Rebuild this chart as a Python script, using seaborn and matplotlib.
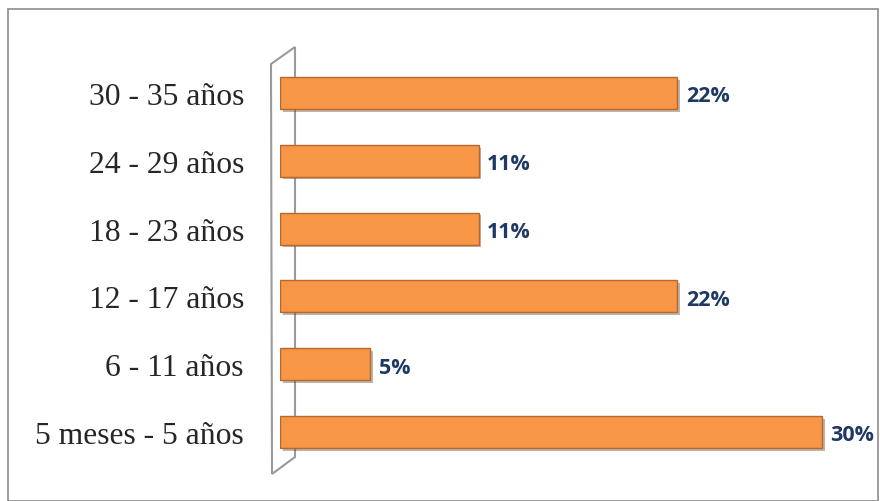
import matplotlib
matplotlib.use('Agg')
import matplotlib.pyplot as plt
import matplotlib.patheffects as pe
from matplotlib.patches import Polygon, Rectangle
import seaborn as sns
import pandas as pd

# data
categories = ["30 - 35 años", "24 - 29 años", "18 - 23 años",
              "12 - 17 años", "6 - 11 años", "5 meses - 5 años"]
percent = [22, 11, 11, 22, 5, 30]
labels = ["22%", "11%", "11%", "22%", "5%", "30%"]

df = pd.DataFrame({"grupo": categories, "pct": percent})

sns.set_style("white")
plt.rcParams['font.family'] = ['Liberation Serif', 'DejaVu Serif']

fig = plt.figure(figsize=(8.8, 5.02), dpi=100)
ax = fig.add_axes([280 / 880, 1 - 467 / 502, 560 / 880, 407 / 502])
ax.patch.set_alpha(0)

sns.barplot(data=df, x="pct", y="grupo", color="#F79646", saturation=1,
            width=0.47, edgecolor="#B9672A", linewidth=1.0, ax=ax)
for p in ax.patches:
    p.set_path_effects([pe.SimplePatchShadow(offset=(2, -2), alpha=0.35), pe.Normal()])

for i, (v, lab) in enumerate(zip(percent, labels)):
    ax.annotate(lab, (v, i), xytext=(6, -2), textcoords="offset points",
                va="center", ha="left", fontsize=15.5, fontweight="bold",
                color="#1F3864", family=["Open Sans", "DejaVu Sans"])

ax.set_xlim(0, 31.0)
ax.set_xlabel("")
ax.set_ylabel("")
ax.set_xticks([])
ax.tick_params(axis="y", length=0, pad=26, labelsize=22.8)
for s in ax.spines.values():
    s.set_visible(False)

# back wall of the 3d chart
W, H = 880, 502
wall = [(271, 65), (295, 48), (295, 458), (272, 475)]
fig.patches.append(Polygon([(x / W, 1 - y / H) for x, y in wall], closed=True,
                           transform=fig.transFigure, facecolor="white",
                           edgecolor="#9a9a9a", linewidth=1.5, zorder=-1))
# outer frame
fig.patches.append(Rectangle((8 / W, 0), 870 / W, 1 - 10 / H, transform=fig.transFigure,
                             fill=False, edgecolor="#8c8c8c", linewidth=1.2, zorder=-1))

fig.savefig("out.png", dpi=100)
